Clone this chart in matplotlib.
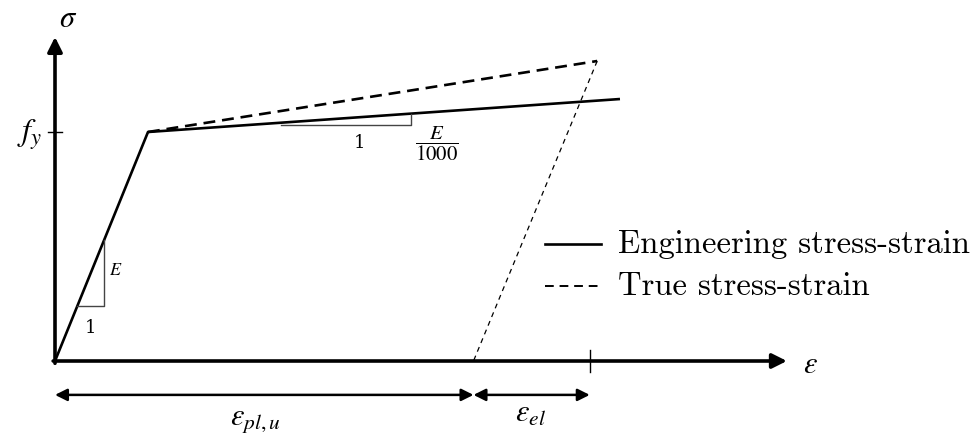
import matplotlib.pyplot as plt

plt.rcParams['mathtext.fontset'] = 'stix'

# curva tensao-deformacao (unidades normalizadas: eps_y = 1, f_y = 1)
eng_strain = [0.0, 1.0, 6.075]
eng_stress = [0.0, 1.0, 1.144]
true_strain = [1.0, 5.83]
true_stress = [1.0, 1.31]
unload_strain = [5.83, 4.50]
unload_stress = [1.31, 0.0]

eps_pl_u = 4.50
eps_u = 5.75

fig = plt.figure(figsize=(9.76, 4.35), dpi=100)
ax = fig.add_axes([0, 0, 1, 1])
ax.set_xlim(-55 / 93, 921 / 93)
ax.set_ylim(-73 / 229, 362 / 229)
ax.axis('off')

# eixos com setas
seta = dict(arrowstyle='-|>', lw=2.6, color='k', mutation_scale=22, shrinkA=0, shrinkB=0)
ax.annotate('', xy=(7.87, 0), xytext=(-0.02, 0), arrowprops=seta)
ax.annotate('', xy=(0, 1.415), xytext=(0, -0.01), arrowprops=seta)

ax.text(0.14, 1.50, r'$\sigma$', fontsize=22, ha='center', va='center')
ax.text(8.12, -0.01, r'$\varepsilon$', fontsize=22, ha='center', va='center')
ax.text(-0.27, 0.99, r'$f_y$', fontsize=23, ha='center', va='center')
ax.plot([-0.08, 0.08], [1.0, 1.0], color='k', lw=1)
ax.plot([eps_u, eps_u], [0.05, -0.05], color='k', lw=1)

# curvas
ax.plot(eng_strain, eng_stress, color='k', lw=1.9, solid_capstyle='butt')
ax.plot(true_strain, true_stress, color='k', lw=1.9, dashes=(4.5, 2.6))
ax.plot(unload_strain, unload_stress, color='k', lw=0.9, dashes=(4, 3.5))

# triangulo do modulo E
ax.plot([0.24, 0.53, 0.53], [0.24, 0.24, 0.53], color='#444444', lw=1)
ax.text(0.58, 0.40, r'$E$', fontsize=13, ha='left', va='center')
ax.text(0.385, 0.15, '1', fontsize=13, ha='center', va='center', family='DejaVu Serif')

# triangulo do endurecimento E/1000
incl = (eng_stress[2] - eng_stress[1]) / (eng_strain[2] - eng_strain[1])
x0, x1 = 2.43, 3.83
y0 = eng_stress[1] + (x0 - eng_strain[1]) * incl - 0.008
y1 = eng_stress[1] + (x1 - eng_strain[1]) * incl
ax.plot([x0, x1, x1], [y0, y0, y1], color='#444444', lw=1)
ax.text(3.27, 0.955, '1', fontsize=13, ha='center', va='center', family='DejaVu Serif')
ax.text(4.11, 0.955, r'$\dfrac{E}{1000}$', fontsize=15, ha='center', va='center')

# cotas das deformacoes
cota = dict(arrowstyle='<|-|>', lw=1.8, color='k', mutation_scale=18, shrinkA=0, shrinkB=0)
ax.annotate('', xy=(eps_pl_u, -0.148), xytext=(0, -0.148), arrowprops=cota)
ax.annotate('', xy=(eps_u, -0.148), xytext=(eps_pl_u, -0.148), arrowprops=cota)
ax.text(2.15, -0.255, r'$\varepsilon_{pl,u}$', fontsize=22, ha='center', va='center')
ax.text(5.11, -0.225, r'$\varepsilon_{el}$', fontsize=22, ha='center', va='center')

# legenda
ax.plot([5.27, 5.87], [0.511, 0.511], color='k', lw=1.9)
ax.plot([5.27, 5.87], [0.328, 0.328], color='k', lw=1.4, dashes=(4.5, 3))
ax.text(6.05, 0.515, 'Engineering stress-strain', fontsize=23.5, family='cmr10',
        ha='left', va='center')
ax.text(6.05, 0.33, 'True stress-strain', fontsize=23.5, family='cmr10',
        ha='left', va='center')

fig.savefig('out.png', dpi=100)
